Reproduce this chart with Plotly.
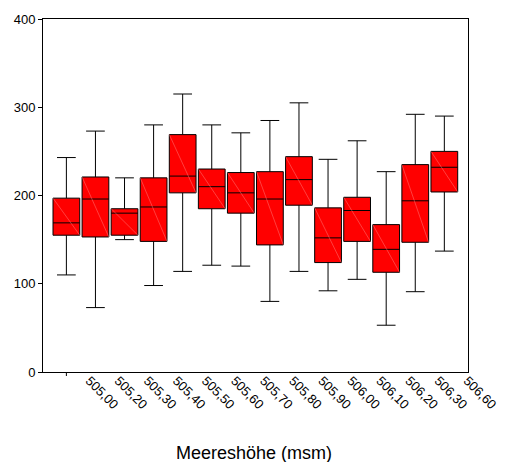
import plotly.graph_objects as go

labels = ["505,00", "505,20", "505,30", "505,40", "505,50", "505,60", "505,70",
          "505,80", "505,90", "506,00", "506,10", "506,20", "506,30", "506,60"]
upper = [243, 273, 220, 280, 315, 280, 271, 285, 305, 241, 262, 227, 292, 290]
q3 =    [197, 221, 185, 220, 269, 230, 226, 227, 244, 186, 198, 167, 235, 250]
median = [169, 196, 180, 187, 222, 210, 203, 196, 218, 152, 183, 139, 194, 232]
q1 =    [155, 153, 155, 148, 203, 185, 180, 144, 189, 124, 148, 113, 147, 204]
lower = [110, 73, 150, 98, 114, 121, 120, 80, 114, 92, 105, 53, 91, 137]
y_ticks = [0, 100, 200, 300, 400]

pos = list(range(len(labels)))
box_w = 0.92
font = "Liberation Sans, Arial, sans-serif"

fig = go.Figure()
fig.add_trace(go.Box(
    x=pos, q1=q1, median=median, q3=q3, lowerfence=lower, upperfence=upper,
    width=box_w, whiskerwidth=0.7,
    fillcolor="#FF0000", line=dict(color="#000000", width=1),
    hoverinfo="skip", showlegend=False,
))

# faint diagonal artefact inside each box
dx, dy = [], []
for p, a, b in zip(pos, q3, q1):
    dx += [p - box_w / 2, p + box_w / 2, None]
    dy += [a, b, None]
fig.add_trace(go.Scatter(x=dx, y=dy, mode="lines",
                         line=dict(color="rgba(255,150,150,0.7)", width=0.6),
                         hoverinfo="skip", showlegend=False))

fig.update_layout(
    width=511, height=462,
    margin=dict(l=43, r=32, t=19, b=90),
    paper_bgcolor="white", plot_bgcolor="white",
    font=dict(family=font, size=13, color="black"),
    xaxis=dict(range=[-0.804, len(labels) - 1 + 0.814],
               tickmode="array", tickvals=pos, ticktext=labels,
               tickangle=45, ticklabelshift=23, ticklabelstandoff=-5, ticks="",
               showgrid=False, zeroline=False,
               showline=True, mirror=True, linecolor="black", linewidth=1,
               tickfont=dict(size=13)),
    yaxis=dict(range=[0, 400], tickmode="array", tickvals=y_ticks,
               ticks="outside", ticklen=4, tickcolor="black",
               showgrid=False, zeroline=False,
               showline=True, mirror=True, linecolor="black", linewidth=1,
               tickfont=dict(size=13)),
    annotations=[dict(text="Meereshöhe (msm)", xref="paper", yref="paper",
                      x=0.4966, y=-0.229, xanchor="center", yanchor="middle",
                      showarrow=False, font=dict(size=18, family=font))],
    shapes=[dict(type="line", xref="x", yref="paper",
                 x0=pos[0], x1=pos[0], y0=0, y1=-4 / 353,
                 line=dict(color="black", width=1))],
)

fig.write_html("out.html")
